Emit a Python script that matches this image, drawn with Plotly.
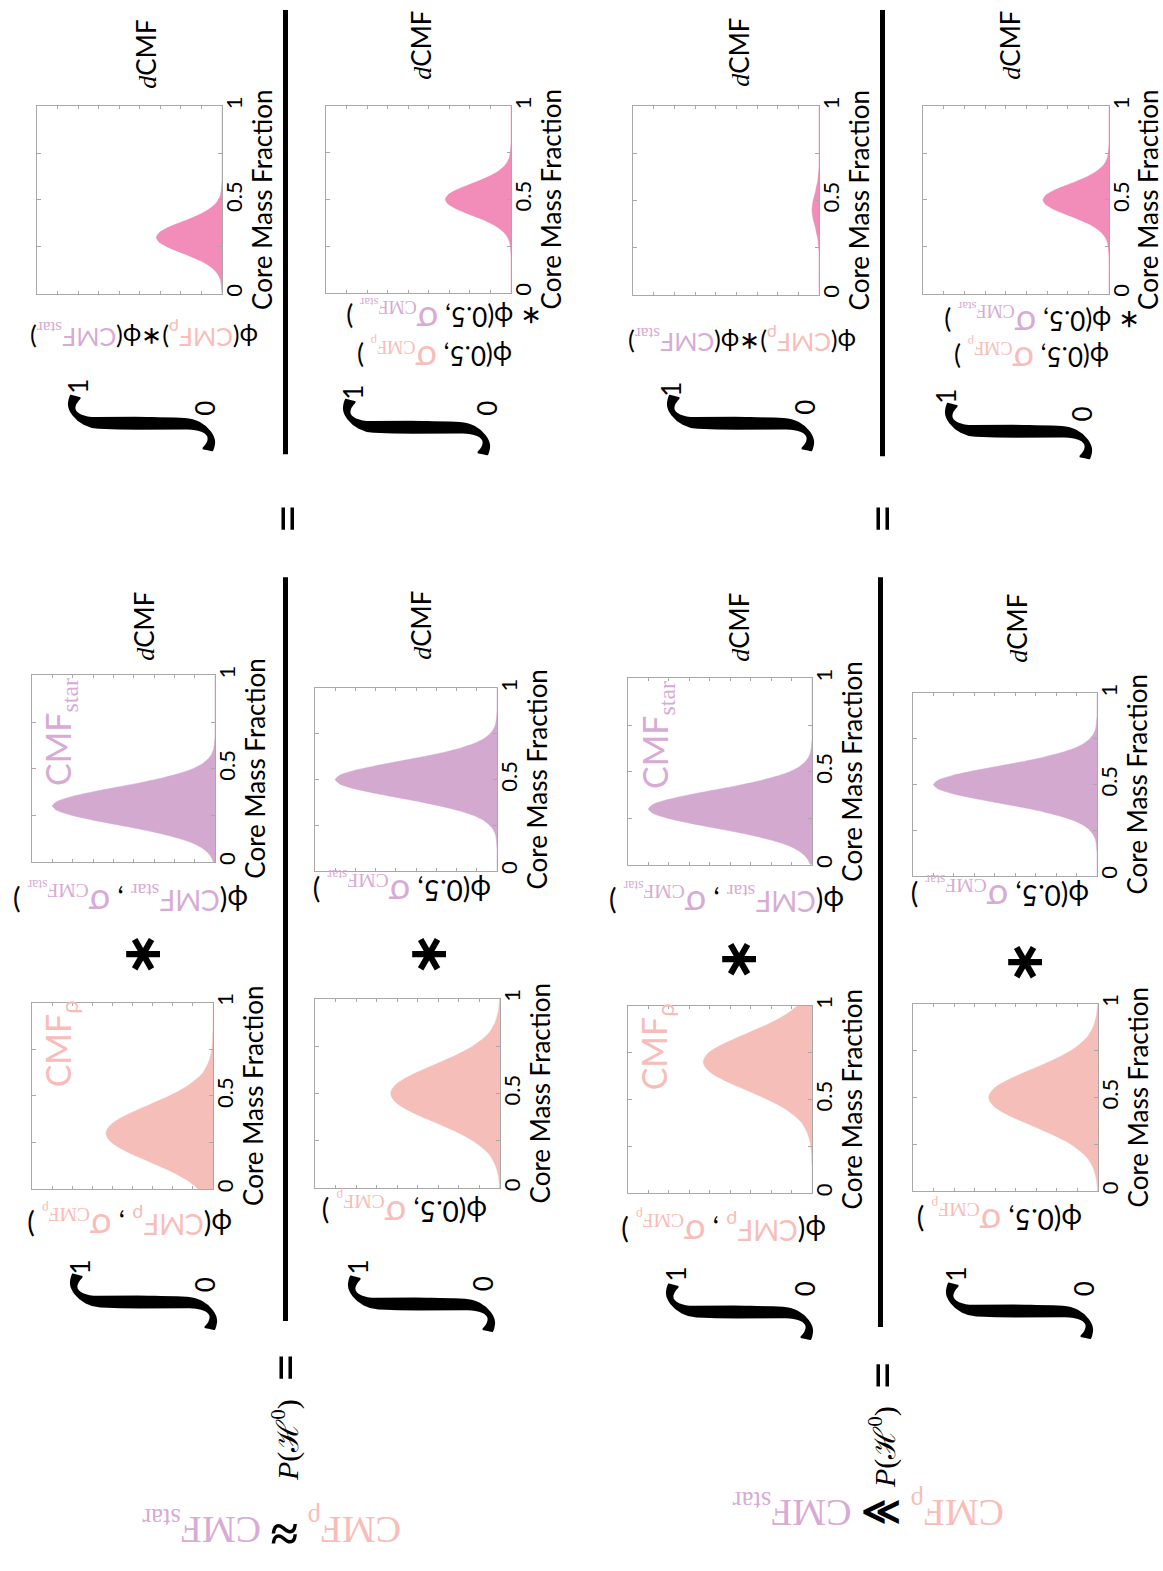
import plotly.graph_objects as go

W, H = 1163, 1571
SANS = "Lato"
SERIF = "Liberation Serif"

# ---------------- data ----------------
cmf = [0, 0.025, 0.05, 0.075, 0.1, 0.125, 0.15, 0.175, 0.2, 0.225, 0.25, 0.275, 0.3, 0.325,
       0.35, 0.375, 0.4, 0.425, 0.45, 0.475, 0.5, 0.525, 0.55, 0.575, 0.6, 0.625, 0.65, 0.675,
       0.7, 0.725, 0.75, 0.775, 0.8, 0.825, 0.85, 0.875, 0.9, 0.925, 0.95, 0.975, 1.0]

# eq.1 numerator: planet CMF (wide) and star CMF (narrow)
dens_p1 = [0.36, 0.50, 0.66, 0.86, 1.09, 1.35, 1.61, 1.88, 2.13, 2.35, 2.52, 2.62, 2.66, 2.62,
           2.52, 2.35, 2.13, 1.88, 1.61, 1.35, 1.09, 0.86, 0.66, 0.50, 0.36, 0.25, 0.18, 0.12,
           0.08, 0.05, 0.03, 0.02, 0.01, 0.01, 0, 0, 0, 0, 0, 0, 0]
dens_s1 = [0.04, 0.09, 0.18, 0.32, 0.54, 0.87, 1.30, 1.83, 2.43, 3.02, 3.53, 3.88, 4.00, 3.88,
           3.53, 3.02, 2.43, 1.83, 1.30, 0.87, 0.54, 0.32, 0.18, 0.09, 0.04, 0.02, 0.01, 0,
           0, 0, 0, 0, 0, 0, 0, 0, 0, 0, 0, 0, 0]
# denominators: centred at 0.5
dens_p0 = [0.01, 0.02, 0.03, 0.05, 0.08, 0.12, 0.18, 0.25, 0.36, 0.50, 0.66, 0.86, 1.09, 1.35,
           1.61, 1.88, 2.13, 2.35, 2.52, 2.62, 2.66, 2.62, 2.52, 2.35, 2.13, 1.88, 1.61, 1.35,
           1.09, 0.86, 0.66, 0.50, 0.36, 0.25, 0.18, 0.12, 0.08, 0.05, 0.03, 0.02, 0.01]
dens_s0 = [0, 0, 0, 0, 0, 0, 0.01, 0.02, 0.04, 0.09, 0.18, 0.32, 0.54, 0.87,
           1.30, 1.83, 2.43, 3.02, 3.53, 3.88, 4.00, 3.88, 3.53, 3.02, 2.43, 1.83, 1.30, 0.87,
           0.54, 0.32, 0.18, 0.09, 0.04, 0.02, 0.01, 0, 0, 0, 0, 0, 0]
# products
dens_prod1 = [0, 0.01, 0.02, 0.04, 0.09, 0.18, 0.32, 0.52, 0.78, 1.07, 1.34, 1.53, 1.60, 1.53,
              1.34, 1.07, 0.78, 0.52, 0.32, 0.18, 0.09, 0.04, 0.02, 0.01, 0, 0, 0, 0,
              0, 0, 0, 0, 0, 0, 0, 0, 0, 0, 0, 0, 0]
dens_prod0 = [0, 0, 0, 0, 0, 0, 0, 0, 0, 0.01, 0.02, 0.04, 0.09, 0.18,
              0.32, 0.52, 0.78, 1.07, 1.34, 1.53, 1.60, 1.53, 1.34, 1.07, 0.78, 0.52, 0.32, 0.18,
              0.09, 0.04, 0.02, 0.01, 0, 0, 0, 0, 0, 0, 0, 0, 0]
# eq.2 numerator: planet CMF high, star CMF low
dens_p2 = [0, 0, 0, 0, 0, 0, 0, 0.01, 0.01, 0.02, 0.03, 0.05, 0.08, 0.12,
           0.18, 0.25, 0.36, 0.50, 0.66, 0.86, 1.09, 1.35, 1.61, 1.88, 2.13, 2.35, 2.52, 2.62,
           2.66, 2.62, 2.52, 2.35, 2.13, 1.88, 1.61, 1.35, 1.09, 0.86, 0.66, 0.50, 0.36]
dens_s2 = [0.04, 0.09, 0.18, 0.32, 0.54, 0.87, 1.30, 1.83, 2.43, 3.02, 3.53, 3.88, 4.00, 3.88,
           3.53, 3.02, 2.43, 1.83, 1.30, 0.87, 0.54, 0.32, 0.18, 0.09, 0.04, 0.02, 0.01, 0,
           0, 0, 0, 0, 0, 0, 0, 0, 0, 0, 0, 0, 0]
dens_prod2 = [0, 0, 0, 0, 0, 0, 0, 0, 0, 0, 0.01, 0.02, 0.03, 0.06,
              0.08, 0.11, 0.14, 0.16, 0.17, 0.16, 0.14, 0.11, 0.08, 0.06, 0.03, 0.02, 0.01, 0,
              0, 0, 0, 0, 0, 0, 0, 0, 0, 0, 0, 0, 0]

dens_max = 4.5
dens_ticks = [0, 0.5, 1, 1.5, 2, 2.5, 3, 3.5, 4, 4.5]
cmf_ticks = [0, 0.25, 0.5, 0.75, 1]
cmf_ticktext = ["0", "", "0.5", "", "1"]

PINK_FILL = "#F6BEB8"
PURP_FILL = "#D3A9CF"
PROD_FILL = "#F28CB8"
PINK_TXT = "#F8BDB8"
PURP_TXT = "#D7ABD4"
FRAME = "#A8A8A8"

# panel boxes in pixels (x0, x1, y0, y1)
panels = [
    (32, 213, 1001, 1189, dens_p1, PINK_FILL),
    (32, 215, 671, 859, dens_s1, PURP_FILL),
    (315, 500, 997, 1188, dens_p0, PINK_FILL),
    (315, 497, 684, 868, dens_s0, PURP_FILL),
    (37, 222, 97, 286, dens_prod1, PROD_FILL),
    (326, 511, 97, 285, dens_prod0, PROD_FILL),
    (628, 812, 1004, 1193, dens_p2, PINK_FILL),
    (628, 812, 674, 862, dens_s2, PURP_FILL),
    (913, 1098, 1002, 1191, dens_p0, PINK_FILL),
    (913, 1097, 689, 873, dens_s0, PURP_FILL),
    (633, 819, 97, 287, dens_prod2, PROD_FILL),
    (923, 1109, 97, 286, dens_prod0, PROD_FILL),
]


def px(x):
    return x / W


def py(y):
    return 1 - y / H


fig = go.Figure()
annotations = []
layout_axes = {}

for i, (x0, x1, y0, y1, dens, col) in enumerate(panels):
    n = i + 1
    xa = "x" if n == 1 else f"x{n}"
    ya = "y" if n == 1 else f"y{n}"
    fig.add_trace(go.Scatter(x=dens, y=cmf, xaxis=xa, yaxis=ya, mode="lines",
                             line=dict(width=0.5, color=col, shape="spline", smoothing=0.6),
                             fill="tozerox", fillcolor=col, hoverinfo="skip",
                             showlegend=False))
    xk = "xaxis" if n == 1 else f"xaxis{n}"
    yk = "yaxis" if n == 1 else f"yaxis{n}"
    layout_axes[xk] = dict(domain=[px(x0), px(x1)], range=[dens_max, 0], anchor=ya,
                           showgrid=False, zeroline=False, showline=True, linecolor=FRAME,
                           linewidth=1, mirror="ticks", ticks="inside", ticklen=3,
                           tickcolor=FRAME, tickvals=dens_ticks, showticklabels=False)
    layout_axes[yk] = dict(domain=[py(y1), py(y0)], range=[0, 1], anchor=xa, side="right",
                           showgrid=False, zeroline=False, showline=True, linecolor=FRAME,
                           linewidth=1, mirror="ticks", ticks="inside", ticklen=4,
                           tickcolor=FRAME, tickvals=cmf_ticks, ticktext=cmf_ticktext,
                           tickangle=-90, ticklabelstandoff=-7,
                           tickfont=dict(family=SANS, size=22, color="black"))
    annotations.append(dict(text="Core Mass Fraction", x=px(min(x1 + 40, W - 15)),
                            y=py((y0 + y1) / 2), textangle=-90,
                            font=dict(family=SANS, size=26, color="black")))


def ann(text, x, y, size, angle=0, color="black", family=SANS, **kw):
    d = dict(text=text, x=px(x), y=py(y), textangle=angle,
             font=dict(family=family, size=size, color=color))
    d.update(kw)
    annotations.append(d)


def pk(s):
    return f'<span style="color:{PINK_TXT}">{s}</span>'


def pu(s):
    return f'<span style="color:{PURP_TXT}">{s}</span>'


SERIF_SPAN = f'font-family:{SERIF}'
BIG_SIG = '<span style="font-size:36px">σ</span>'
CMFp = "CMF<sub>ρ</sub>"
CMFs = f'CMF<sub><span style="{SERIF_SPAN}">star</span></sub>'
sig_p = f'{BIG_SIG}<sub><span style="{SERIF_SPAN}">CMF<sub>ρ</sub></span></sub>'
sig_s = f'{BIG_SIG}<sub><span style="{SERIF_SPAN}">CMF<sub>star</sub></span></sub>'

lab_p = f"ϕ({pk(CMFp)} , {pk(sig_p)} )"
lab_s = f"ϕ({pu(CMFs)} , {pu(sig_s)} )"
lab_p0 = f"ϕ(0.5, {pk(sig_p)} )"
lab_s0 = f"ϕ(0.5, {pu(sig_s)} )"
lab_prod = f"ϕ({pk(CMFp)})∗ϕ({pu(CMFs)})"
lab_den2 = f"∗ ϕ(0.5, {pu(sig_s)} )"

LS = 28
for t, x, y, s in [(lab_p, 130, 1225, LS), (lab_s, 131, 899, LS), (lab_p0, 405, 1212, LS),
                   (lab_s0, 402, 889, LS), (lab_prod, 144, 328, 25), (lab_p0, 435, 351, 26),
                   (lab_den2, 444, 311, 26), (lab_p, 724, 1231, LS), (lab_s, 726, 900, LS),
                   (lab_p0, 1000, 1220, LS), (lab_s0, 1000, 894, LS), (lab_prod, 742, 334, 25),
                   (lab_p0, 1032, 352, 26), (lab_den2, 1042, 315, 26)]:
    ann(t, x, y, s, angle=180)

# inset labels
for t, col, x, y in [(CMFp, PINK_TXT, 60, 1043), (CMFs, PURP_TXT, 60, 728),
                     (CMFp, PINK_TXT, 656, 1046), (CMFs, PURP_TXT, 657, 731)]:
    ann(t, x, y, 34, angle=-90, color=col)

# dCMF
dcmf = f'<i><span style="{SERIF_SPAN}">d</span></i>CMF'
for x, y in [(146, 45), (421, 36), (739, 43), (1010, 36), (144, 622), (421, 621), (739, 623),
             (1017, 623)]:
    ann(dcmf, x, y, 26, angle=-90)

# integrals
for (cx, cy), (ox, oy), (zx, zy) in [((130, 1303), (80, 1268), (205, 1286)),
                                     ((408, 1305), (358, 1268), (483, 1285)),
                                     ((726, 1312), (676, 1275), (805, 1290)),
                                     ((1006, 1312), (956, 1275), (1084, 1290)),
                                     ((129, 417), (78, 380), (205, 402)),
                                     ((404, 421), (353, 386), (487, 402)),
                                     ((728, 417), (671, 383), (805, 401)),
                                     ((1005, 425), (946, 390), (1082, 408))]:
    ann("<b>∫</b>", cx, cy, 150, angle=-90, family=SERIF)
    ann("1", ox, oy, 26, angle=-90)
    ann("0", zx, zy, 26, angle=-90)

# convolution stars
for x, y in [(141, 953), (427, 953), (737, 958), (1023, 961)]:
    ann("<b>∗</b>", x, y, 54, angle=-90, family="DejaVu Sans")

# equals signs
for x, y in [(286, 513), (881, 513), (284, 1369), (881, 1377)]:
    ann("=", x, y, 52, angle=-90)

# P(H0)
ph = "<i>P</i>(ℋ<sup>0</sup>)"
ann(ph, 285, 1442, 30, angle=-90, family=SERIF)
ann(ph, 882, 1449, 30, angle=-90, family=SERIF)

# conditions
cond1 = f'{pk("CMF<sub>ρ</sub>")} <span style="font-size:50px"><b>≈</b></span> {pu("CMF<sub>star</sub>")}'
cond2 = f'{pk("CMF<sub>ρ</sub>")} <b>≫</b> {pu("CMF<sub>star</sub>")}'
ann(cond1, 272, 1535, 38, angle=180, family=SERIF)
ann(cond2, 869, 1512, 38, angle=180, family=SERIF)

# fraction bars
shapes = []
for x, ya, yb in [(285.5, 572, 1322), (285.5, 0, 448), (880.5, 572, 1328), (882.5, 0, 450)]:
    shapes.append(dict(type="line", xref="paper", yref="paper", x0=px(x), x1=px(x),
                       y0=py(ya), y1=py(yb), line=dict(color="black", width=5)))

for a in annotations:
    a.setdefault("xref", "paper")
    a.setdefault("yref", "paper")
    a.setdefault("showarrow", False)
    a.setdefault("xanchor", "center")
    a.setdefault("yanchor", "middle")

fig.update_layout(width=W, height=H, margin=dict(l=0, r=0, t=0, b=0), autosize=False,
                  paper_bgcolor="white", plot_bgcolor="white", showlegend=False,
                  annotations=annotations, shapes=shapes, **layout_axes)

fig.write_html("out.html", config={"displayModeBar": False},
               post_script="document.body.style.margin='0';")
